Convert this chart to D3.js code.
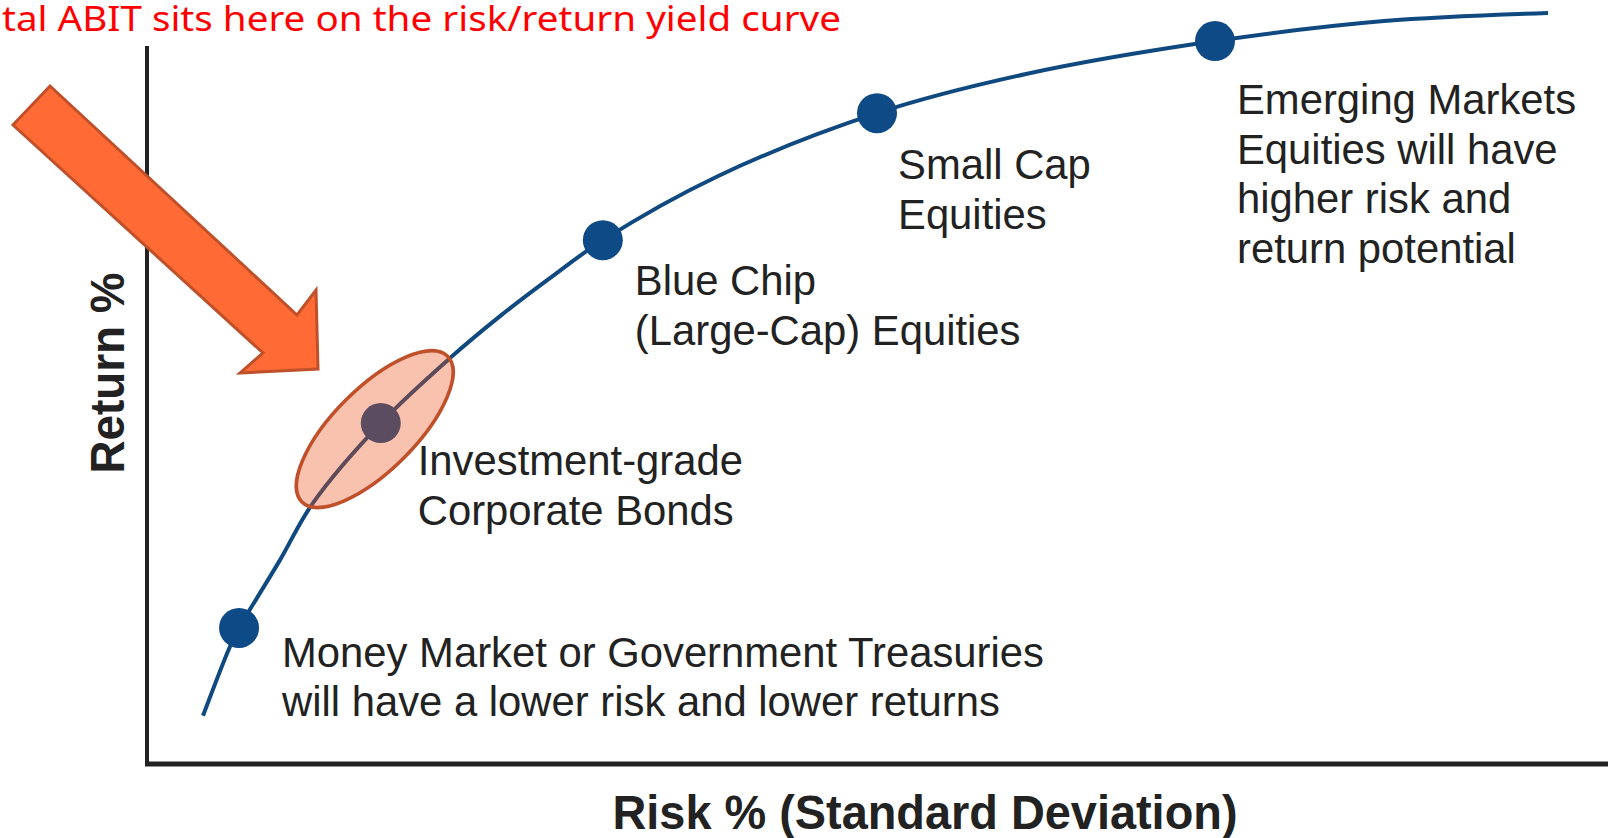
<!DOCTYPE html>
<html>
<head>
<meta charset="utf-8">
<script src="https://cdn.jsdelivr.net/npm/d3@7"></script>
<style>
  html, body { margin: 0; padding: 0; background: #fff; overflow: hidden; }
  svg { display: block; }
</style>
</head>
<body>
<div class="article"></div>
<script>
//chart data (risk % and return %)
var curveRisk = [1.15, 1.70, 1.89, 2.11, 2.73, 3.41, 4.80, 6.22, 7.25, 8.28, 9.36, 11.72, 14.99, 18.05, 21.93, 25.40, 28.77];
var curveReturn = [1.01, 2.45, 2.85, 3.23, 4.27, 5.47, 7.14, 8.50, 9.38, 10.18, 10.97, 12.31, 13.63, 14.45, 15.14, 15.56, 15.73];

var assetNames = ["Money Market", "Investment-grade Bonds", "Blue Chip", "Small Cap", "Emerging Markets"];
var assetRisk = [1.89, 4.80, 9.36, 14.99, 21.93];
var assetReturn = [2.85, 7.14, 10.97, 13.63, 15.14];
var assetLabels = [
  ["Money Market or Government Treasuries", "will have a lower risk and lower returns"],
  ["Investment-grade", "Corporate Bonds"],
  ["Blue Chip", "(Large-Cap) Equities"],
  ["Small Cap", "Equities"],
  ["Emerging Markets", "Equities will have", "higher risk and", "return potential"]
];
var highlightIndex = 1;

var titleText = "tal ABIT sits here on the risk/return yield curve";
var xTitle = "Risk % (Standard Deviation)";
var yTitle = "Return %";

//layout
var svgWidth = 1608;
var svgHeight = 838;
var axisLeft = 147;
var axisBottom = 764;
var axisTop = 46;

//label offsets from each dot (pixels)
var labelOffsets = [[43, 39], [37, 52], [32, 55], [21, 66], [22, 73]];
var lineGap = 49.5;

var svg = d3.select(".article")
  .append("svg")
  .attr("width", svgWidth)
  .attr("height", svgHeight);

//scales
var xScale = d3.scaleLinear()
  .domain([0, 30])
  .range([axisLeft, axisLeft + 30 * 48.7]);
var yScale = d3.scaleLinear()
  .domain([0, 16])
  .range([axisBottom, axisBottom - 16 * 47.75]);

//red title at the top
svg.append("text")
  .attr("x", 2)
  .attr("y", 31)
  .attr("font-family", "'Noto Sans', 'Open Sans', sans-serif")
  .style("font-size", "35px")
  .attr("textLength", 839)
  .attr("lengthAdjust", "spacingAndGlyphs")
  .attr("fill", "#ff0000")
  .text(titleText);

//axes lines
svg.append("line")
  .attr("x1", axisLeft).attr("x2", axisLeft)
  .attr("y1", axisTop).attr("y2", axisBottom + 2)
  .attr("stroke", "#222")
  .attr("stroke-width", 4);
svg.append("line")
  .attr("x1", axisLeft - 2).attr("x2", svgWidth)
  .attr("y1", axisBottom).attr("y2", axisBottom)
  .attr("stroke", "#222")
  .attr("stroke-width", 5);

//axis titles
svg.append("text")
  .attr("transform", "translate(124, 373) rotate(-90)")
  .attr("text-anchor", "middle")
  .attr("font-family", "'Liberation Sans', Arial, sans-serif")
  .attr("font-weight", "bold")
  .style("font-size", "48px")
  .attr("textLength", 201)
  .attr("lengthAdjust", "spacingAndGlyphs")
  .attr("fill", "#222")
  .text(yTitle);

svg.append("text")
  .attr("x", 925)
  .attr("y", 829)
  .attr("text-anchor", "middle")
  .attr("font-family", "'Liberation Sans', Arial, sans-serif")
  .attr("font-weight", "bold")
  .style("font-size", "48px")
  .attr("textLength", 625)
  .attr("lengthAdjust", "spacingAndGlyphs")
  .attr("fill", "#222")
  .text(xTitle);

//the risk/return curve
var curvePoints = curveRisk.map((r, i) => [r, curveReturn[i]]);
var line = d3.line()
  .x(d => xScale(d[0]))
  .y(d => yScale(d[1]))
  .curve(d3.curveCatmullRom);

svg.append("path")
  .datum(curvePoints)
  .attr("d", line)
  .attr("fill", "none")
  .attr("stroke", "#10497f")
  .attr("stroke-width", 4);

//asset dots
svg.append("g")
  .selectAll("circle")
  .data(assetNames)
  .enter()
  .append("circle")
  .attr("cx", (d, i) => xScale(assetRisk[i]))
  .attr("cy", (d, i) => yScale(assetReturn[i]))
  .attr("r", 20)
  .attr("fill", "#0e4a86");

//labels
var labelGroup = svg.append("g")
  .attr("font-family", "'Liberation Sans', Arial, sans-serif")
  .style("font-size", "41.8px")
  .attr("fill", "#222");

assetLabels.forEach((lines, i) => {
  var lx = xScale(assetRisk[i]) + labelOffsets[i][0];
  var ly = yScale(assetReturn[i]) + labelOffsets[i][1];
  var t = labelGroup.append("text")
    .attr("x", lx)
    .attr("y", ly);
  lines.forEach((s, j) => {
    t.append("tspan")
      .attr("x", lx)
      .attr("y", ly + j * lineGap)
      .text(s);
  });
});

//highlight ellipse round the bonds dot
var hx = xScale(assetRisk[highlightIndex]) - 6;
var hy = yScale(assetReturn[highlightIndex]) + 6;
svg.append("ellipse")
  .attr("transform", `translate(${hx}, ${hy}) rotate(-45)`)
  .attr("rx", 103)
  .attr("ry", 41)
  .attr("fill", "#ee5118")
  .attr("fill-opacity", 0.35)
  .attr("stroke", "#c0502a")
  .attr("stroke-width", 3.5);

//big orange arrow pointing at it
var arrowPts = [[50, 86], [297, 315], [316, 290], [318, 369], [240, 373], [263, 353], [13, 125]];
svg.append("polygon")
  .attr("points", arrowPts.map(p => p.join(",")).join(" "))
  .attr("fill", "#ff6a35")
  .attr("stroke", "#c0502a")
  .attr("stroke-width", 3)
  .attr("stroke-linejoin", "miter");
</script>
</body>
</html>
